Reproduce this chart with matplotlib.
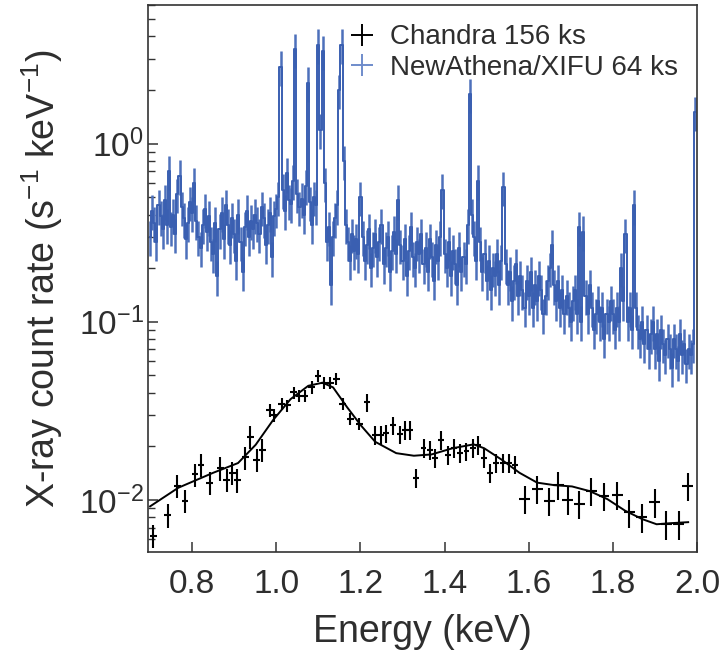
import matplotlib

matplotlib.use("Agg")
import matplotlib.pyplot as plt
import numpy as np
from matplotlib.lines import Line2D

# NewAthena/XIFU simulated spectrum, 5 eV bins starting at 0.700 keV
XIFU_E0 = 0.700
XIFU_DE = 0.005
xifu_rate = [
    0.30, 0.42, 0.36, 0.28, 0.45, 0.39, 0.33, 0.48, 0.35, 0.70,
    0.34, 0.40, 0.31, 0.52, 0.66, 0.44, 0.38, 0.29, 0.36, 0.47,
    0.41, 0.60, 0.37, 0.30, 0.26, 0.35, 0.43, 0.32, 0.39, 0.28,
    0.24, 0.36, 0.18, 0.33, 0.41, 0.29, 0.45, 0.35, 0.27, 0.38,
    0.31, 0.22, 0.40, 0.28, 0.19, 0.34, 0.42, 0.30, 0.37, 0.33,
    0.40, 0.36, 0.31, 0.44, 0.38, 0.27, 0.35, 0.41, 0.23, 0.39,
    0.43, 0.50, 2.70, 0.55, 0.42, 0.68, 0.48, 0.46, 0.62, 3.40,
    0.52, 0.44, 0.49, 0.40, 0.58, 2.20, 0.47, 0.35, 0.50, 0.45,
    3.60, 1.20, 3.30, 0.60, 0.28, 0.34, 0.16, 0.30, 0.38, 0.45,
    2.00, 3.60, 0.80, 0.35, 0.28, 0.22, 0.31, 0.25, 0.29, 0.24,
    0.50, 0.30, 0.22, 0.27, 0.33, 0.20, 0.26, 0.31, 0.23, 0.28,
    0.35, 0.21, 0.26, 0.30, 0.19, 0.25, 0.32, 0.24, 0.48, 0.27,
    0.22, 0.29, 0.18, 0.25, 0.34, 0.23, 0.20, 0.28, 0.24, 0.31,
    0.21, 0.26, 0.19, 0.29, 0.23, 0.17, 0.27, 0.22, 0.30, 0.55,
    0.24, 0.20, 0.28, 0.18, 0.25, 0.21, 0.16, 0.26, 0.19, 0.23,
    0.21, 0.35, 1.90, 0.40, 0.30, 0.22, 0.62, 0.28, 0.19, 0.24,
    0.17, 0.22, 0.15, 0.20, 0.18, 0.24, 0.16, 0.22, 0.57, 0.21,
    0.16, 0.19, 0.13, 0.17, 0.21, 0.14, 0.18, 0.15, 0.12, 0.17,
    0.14, 0.19, 0.12, 0.16, 0.13, 0.18, 0.15, 0.11, 0.14, 0.17,
    0.20, 0.27, 0.16, 0.13, 0.17, 0.12, 0.15, 0.11, 0.14, 0.12,
    0.10, 0.13, 0.15, 0.11, 0.34, 0.10, 0.32, 0.14, 0.11, 0.16,
    0.12, 0.09, 0.11, 0.13, 0.10, 0.12, 0.08, 0.11, 0.10, 0.13,
    0.11, 0.09, 0.12, 0.10, 0.20, 0.13, 0.31, 0.10, 0.12, 0.09,
    0.45, 0.12, 0.09, 0.08, 0.10, 0.075, 0.09, 0.07, 0.085, 0.10,
    0.07, 0.085, 0.06, 0.09, 0.075, 0.065, 0.08, 0.07, 0.055, 0.08,
    0.07, 0.06, 0.085, 0.065, 0.075, 0.058, 0.07, 0.065, 0.075, 1.50,
]
XIFU_REL_ERR = 0.22

# Chandra 156 ks data points
chandra_energy = [
    0.708, 0.742, 0.765, 0.783, 0.807, 0.821, 0.842, 0.867, 0.882, 0.895,
    0.907, 0.926, 0.938, 0.953, 0.967, 0.984, 0.994, 1.013, 1.026, 1.041,
    1.055, 1.068, 1.084, 1.099, 1.114, 1.128, 1.143, 1.158, 1.176, 1.197,
    1.216, 1.235, 1.248, 1.260, 1.277, 1.293, 1.306, 1.318, 1.333, 1.350,
    1.365, 1.377, 1.392, 1.409, 1.423, 1.437, 1.452, 1.467, 1.479, 1.494,
    1.509, 1.523, 1.538, 1.553, 1.568, 1.590, 1.620, 1.649, 1.670, 1.693,
    1.720, 1.749, 1.779, 1.810, 1.839, 1.869, 1.900, 1.927, 1.957, 1.978,
]
chandra_rate = [
    0.0063, 0.0082, 0.0120, 0.0099, 0.0139, 0.0158, 0.0125, 0.0151, 0.0130, 0.0142,
    0.0129, 0.0173, 0.0226, 0.0168, 0.0191, 0.0318, 0.0298, 0.0346, 0.0339, 0.0401,
    0.0384, 0.0384, 0.0428, 0.0496, 0.0455, 0.0455, 0.0479, 0.0346, 0.0286, 0.0268,
    0.0353, 0.0231, 0.0231, 0.0236, 0.0262, 0.0233, 0.0246, 0.0246, 0.0133, 0.0195,
    0.0191, 0.0172, 0.0217, 0.0179, 0.0195, 0.0183, 0.0187, 0.0195, 0.0203, 0.0172,
    0.0142, 0.0161, 0.0161, 0.0161, 0.0158, 0.0101, 0.0115, 0.0099, 0.0122, 0.0100,
    0.0095, 0.0112, 0.0105, 0.0107, 0.0085, 0.0080, 0.0097, 0.0073, 0.0073, 0.0120,
]
chandra_xerr = [0.008] * 30 + [0.007] * 25 + [0.013] * 15
chandra_relerr = [0.15] * 15 + [0.08] * 15 + [0.12] * 25 + [0.18] * 15

# best-fit model through the Chandra data
model_energy = [
    0.700, 0.767, 0.850, 0.909, 0.951, 0.992, 1.034, 1.076, 1.110, 1.135,
    1.168, 1.201, 1.235, 1.285, 1.327, 1.369, 1.419, 1.469, 1.494, 1.536,
    1.578, 1.620, 1.661, 1.703, 1.745, 1.787, 1.829, 1.870, 1.904, 1.937,
    1.979,
]
model_rate = [
    0.0092, 0.0117, 0.0142, 0.0161, 0.0204, 0.0280, 0.0368, 0.0437, 0.0455, 0.0428,
    0.0332, 0.0262, 0.0212, 0.0183, 0.0177, 0.0180, 0.0195, 0.0205, 0.0195, 0.0168,
    0.0142, 0.0125, 0.0121, 0.0119, 0.0112, 0.0101, 0.0087, 0.0078, 0.0073, 0.0074,
    0.0075,
]

BLUE = "#3a5fb1"
BLUE_ERR = "#4d70bb"
TEXT = "#2e2e2e"

plt.rcParams["font.family"] = ["Liberation Sans", "DejaVu Sans"]
plt.rcParams["mathtext.default"] = "regular"

fig = plt.figure(figsize=(7.23, 6.61), dpi=100)
ax = fig.add_axes([148 / 723, 109 / 661, 549 / 723, 547 / 661])

xifu_rate = np.array(xifu_rate)
xifu_energy = XIFU_E0 + XIFU_DE * np.arange(len(xifu_rate))
ax.errorbar(
    xifu_energy, xifu_rate, yerr=xifu_rate * XIFU_REL_ERR,
    fmt="none", ecolor=BLUE_ERR, elinewidth=1.8, zorder=2,
)
ax.plot(xifu_energy, xifu_rate, drawstyle="steps-mid", color=BLUE, lw=1.4, zorder=3)

c_rate = np.array(chandra_rate)
ax.errorbar(
    chandra_energy, c_rate, xerr=chandra_xerr, yerr=c_rate * np.array(chandra_relerr),
    fmt="none", ecolor="black", elinewidth=1.5, zorder=4,
)
ax.plot(model_energy, model_rate, color="black", lw=1.4, zorder=5)

ax.set_yscale("log")
ax.set_xlim(0.695, 2.0)
ax.set_ylim(0.0051, 6.0)
ax.set_xticks([0.8, 1.0, 1.2, 1.4, 1.6, 1.8, 2.0])
ax.set_xticklabels(["0.8", "1.0", "1.2", "1.4", "1.6", "1.8", "2.0"])
ax.minorticks_off()
ax.yaxis.set_minor_locator(matplotlib.ticker.LogLocator(base=10, subs=np.arange(2, 10)))
ax.yaxis.set_minor_formatter(matplotlib.ticker.NullFormatter())

ax.tick_params(axis="both", which="major", direction="in", length=7, width=1.1,
               color="#333333", labelsize=24, labelcolor=TEXT)
ax.tick_params(axis="y", which="minor", direction="in", length=5, width=1.0, color="#333333")
ax.tick_params(axis="x", which="major", pad=12)
ax.tick_params(axis="y", which="major", pad=3)
for sp in ax.spines.values():
    sp.set_color("#333333")
    sp.set_linewidth(1.2)

ax.set_xlabel("Energy (keV)", fontsize=27, color=TEXT, labelpad=10)
ax.set_ylabel("X-ray count rate (s$^{-1}$ keV$^{-1}$)", fontsize=27, color=TEXT, labelpad=10)

handles = [
    Line2D([], [], ls="none", marker="+", color="black", markersize=16, markeredgewidth=1.4),
    Line2D([], [], ls="none", marker="+", color="#6f8ccb", markersize=16, markeredgewidth=1.4),
]
ax.legend(handles, ["Chandra 156 ks", "NewAthena/XIFU 64 ks"], loc="upper right",
          bbox_to_anchor=(1.0, 1.0), borderaxespad=0.3, frameon=False, fontsize=20,
          handlelength=1.0, handletextpad=0.5, labelspacing=0.15, labelcolor=TEXT)

fig.savefig("out.png", dpi=100)
